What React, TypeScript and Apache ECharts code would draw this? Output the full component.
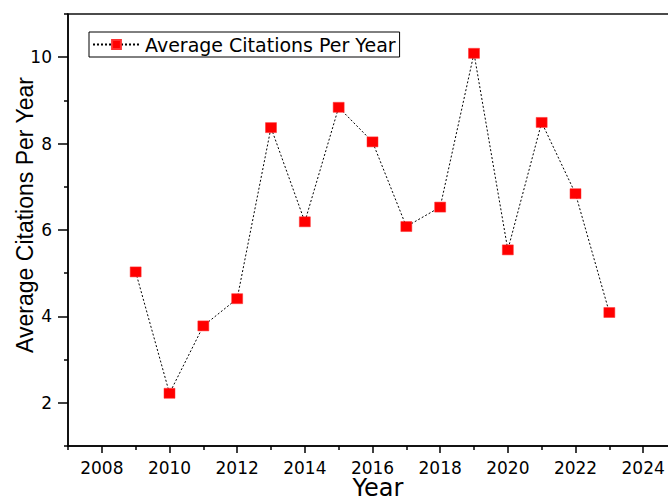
import React, { useEffect, useRef } from "react";
import * as echarts from "echarts";

// Average citations per year, by publication year
const years = [2009, 2010, 2011, 2012, 2013, 2014, 2015, 2016, 2017, 2018, 2019, 2020, 2021, 2022, 2023];
const avgCitations = [5.03, 2.22, 3.78, 4.41, 8.37, 6.19, 8.84, 8.04, 6.08, 6.53, 10.09, 5.54, 8.49, 6.84, 4.09];

// Axis ticks (major ticks carry labels, minor ones sit between them)
const xMajorTicks = [2008, 2010, 2012, 2014, 2016, 2018, 2020, 2022, 2024];
const xMinorTicks = [2007, 2009, 2011, 2013, 2015, 2017, 2019, 2021, 2023, 2025];
const yMajorTicks = [2, 4, 6, 8, 10];
const yMinorTicks = [1, 3, 5, 7, 9, 11];

const seriesName = "Average Citations Per Year";
const FONT = "'Liberation Sans', Arial, sans-serif";
const WIDE_FONT = "'DejaVu Sans', sans-serif";

export default function App() {
  const ref = useRef<HTMLDivElement>(null);

  useEffect(() => {
    if (!ref.current) return;
    const chart = echarts.init(ref.current, undefined, { renderer: "svg" });

    const axisLine = { show: true, lineStyle: { color: "#000", width: 1.5 } };

    chart.setOption({
      animation: false,
      backgroundColor: "#fff",
      textStyle: { fontFamily: WIDE_FONT },
      grid: {
        left: 68,
        top: 14,
        width: 609,
        height: 432,
        outerBoundsMode: "none",
        containLabel: false,
        show: true,
        borderColor: "#111",
        borderWidth: 1.5,
        backgroundColor: "transparent",
      },
      legend: {
        show: true,
        data: [seriesName],
        left: 89,
        top: 32,
        orient: "horizontal",
        borderColor: "#000",
        borderWidth: 1,
        borderRadius: 0,
        padding: [3, 4, 3, 3],
        itemWidth: 47,
        itemHeight: 11,
        textStyle: { fontFamily: WIDE_FONT, fontSize: 19, color: "#000" },
      },
      xAxis: [
        {
          type: "value",
          min: 2007,
          max: 2025,
          position: "bottom",
          splitLine: { show: false },
          axisLine,
          axisTick: { show: true, inside: false, length: 7, customValues: xMajorTicks, lineStyle: { color: "#000", width: 1.5 } },
          axisLabel: {
            show: true,
            customValues: xMajorTicks,
            margin: 13,
            fontSize: 17,
            color: "#000",
            fontFamily: WIDE_FONT,
            formatter: (v: number) => String(v),
          },
        },
        {
          type: "value",
          min: 2007,
          max: 2025,
          position: "bottom",
          offset: 0,
          splitLine: { show: false },
          axisLine: { show: false },
          axisTick: { show: true, inside: false, length: 4, customValues: xMinorTicks, lineStyle: { color: "#000", width: 1.5 } },
          axisLabel: { show: false },
        },
      ],
      yAxis: [
        {
          type: "value",
          min: 1,
          max: 11,
          position: "left",
          splitLine: { show: false },
          axisLine,
          axisTick: { show: true, inside: false, length: 10, customValues: yMajorTicks, lineStyle: { color: "#000", width: 1.5 } },
          axisLabel: {
            show: true,
            customValues: yMajorTicks,
            margin: 16,
            fontSize: 17,
            color: "#000",
            fontFamily: WIDE_FONT,
          },
        },
        {
          type: "value",
          min: 1,
          max: 11,
          position: "left",
          offset: 0,
          splitLine: { show: false },
          axisLine: { show: false },
          axisTick: { show: true, inside: false, length: 4, customValues: yMinorTicks, lineStyle: { color: "#000", width: 1.5 } },
          axisLabel: { show: false },
        },
      ],
      graphic: [
        {
          type: "text",
          x: 25,
          y: 215,
          rotation: Math.PI / 2,
          style: {
            text: "Average Citations Per Year",
            font: `23px ${FONT}`,
            fill: "#000",
            textAlign: "center",
            textVerticalAlign: "middle",
          },
        },
        {
          type: "text",
          x: 378,
          y: 488,
          style: {
            text: "Year",
            font: `24px ${WIDE_FONT}`,
            fill: "#000",
            textAlign: "center",
            textVerticalAlign: "middle",
          },
        },
      ],
      series: [
        {
          name: seriesName,
          type: "line",
          xAxisIndex: 0,
          yAxisIndex: 0,
          data: years.map((y, i) => [y, avgCitations[i]]),
          symbol: "rect",
          symbolSize: [11, 10],
          showSymbol: true,
          itemStyle: { color: "#ff0000", borderColor: "#ff3030", borderWidth: 0.5 },
          lineStyle: { color: "#000", width: 1, type: [2, 2] },
          z: 3,
        },
      ],
    });

    return () => chart.dispose();
  }, []);

  return (
    <div
      ref={ref}
      style={{ position: "fixed", left: 0, top: 0, width: 668, height: 497 }}
    />
  );
}
